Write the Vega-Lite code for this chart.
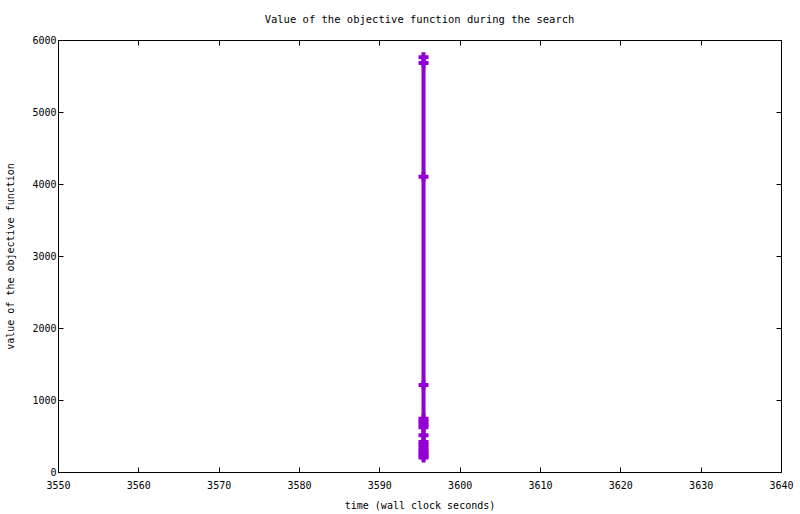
{
  "$schema": "https://vega.github.io/schema/vega-lite/v6.json",
  "autosize": {"type": "none"},
  "padding": {"left": 58, "top": 40, "right": 19, "bottom": 42},
  "width": 723,
  "height": 432,
  "background": "white",
  "title": {
    "text": "Value of the objective function during the search",
    "font": "DejaVu Sans Mono", "fontSize": 10.5, "fontWeight": "normal",
    "color": "black", "anchor": "middle", "offset": 10
  },
  "config": {
    "view": {"stroke": "black", "strokeWidth": 1},
    "axis": {
      "grid": false, "domain": false, "labelFlush": false,
      "tickColor": "black", "tickSize": -5, "tickWidth": 1,
      "labelFont": "DejaVu Sans Mono", "labelFontSize": 10, "labelColor": "black",
      "titleFont": "DejaVu Sans Mono", "titleFontSize": 10, "titleFontWeight": "normal", "titleColor": "black"
    }
  },
  "data": {
    "values": [
      {"order": 1, "time": 3595.5, "value": 5760},
      {"order": 2, "time": 3595.5, "value": 5680},
      {"order": 3, "time": 3595.5, "value": 4100},
      {"order": 4, "time": 3595.5, "value": 1210},
      {"order": 5, "time": 3595.5, "value": 740},
      {"order": 6, "time": 3595.5, "value": 700},
      {"order": 7, "time": 3595.5, "value": 660},
      {"order": 8, "time": 3595.5, "value": 620},
      {"order": 9, "time": 3595.5, "value": 510},
      {"order": 10, "time": 3595.5, "value": 415},
      {"order": 11, "time": 3595.5, "value": 380},
      {"order": 12, "time": 3595.5, "value": 340},
      {"order": 13, "time": 3595.5, "value": 300},
      {"order": 14, "time": 3595.5, "value": 265},
      {"order": 15, "time": 3595.5, "value": 230},
      {"order": 16, "time": 3595.5, "value": 200}
    ]
  },
  "layer": [
    {
      "mark": {"type": "line", "color": "#9400D3", "strokeWidth": 4},
      "encoding": {
        "x": {
          "field": "time", "type": "quantitative",
          "scale": {"domain": [3550, 3640], "nice": false, "zero": false},
          "axis": {"values": [3550, 3560, 3570, 3580, 3590, 3600, 3610, 3620, 3630, 3640], "format": "d", "title": "time (wall clock seconds)", "labelPadding": 13, "titlePadding": 10}
        },
        "y": {
          "field": "value", "type": "quantitative",
          "scale": {"domain": [0, 6000], "nice": false},
          "axis": {"values": [0, 1000, 2000, 3000, 4000, 5000, 6000], "format": "d", "title": "value of the objective function", "labelPadding": 7, "titlePadding": 16}
        },
        "order": {"field": "order"}
      }
    },
    {
      "mark": {"type": "point", "shape": "cross", "filled": true, "color": "#9400D3", "size": 100, "opacity": 1},
      "encoding": {
        "x": {"field": "time", "type": "quantitative", "scale": {"domain": [3550, 3640], "nice": false, "zero": false}, "axis": null},
        "y": {"field": "value", "type": "quantitative", "scale": {"domain": [0, 6000], "nice": false}, "axis": null}
      }
    },
    {
      "mark": {"type": "point", "opacity": 0},
      "encoding": {
        "x": {"field": "time", "type": "quantitative", "scale": {"domain": [3550, 3640], "nice": false, "zero": false}, "axis": {"orient": "top", "values": [3550, 3560, 3570, 3580, 3590, 3600, 3610, 3620, 3630, 3640], "labels": false, "title": null}},
        "y": {"field": "value", "type": "quantitative", "scale": {"domain": [0, 6000], "nice": false}, "axis": {"orient": "right", "values": [0, 1000, 2000, 3000, 4000, 5000, 6000], "labels": false, "title": null}}
      }
    }
  ],
  "resolve": {"axis": {"x": "independent", "y": "independent"}}
}
